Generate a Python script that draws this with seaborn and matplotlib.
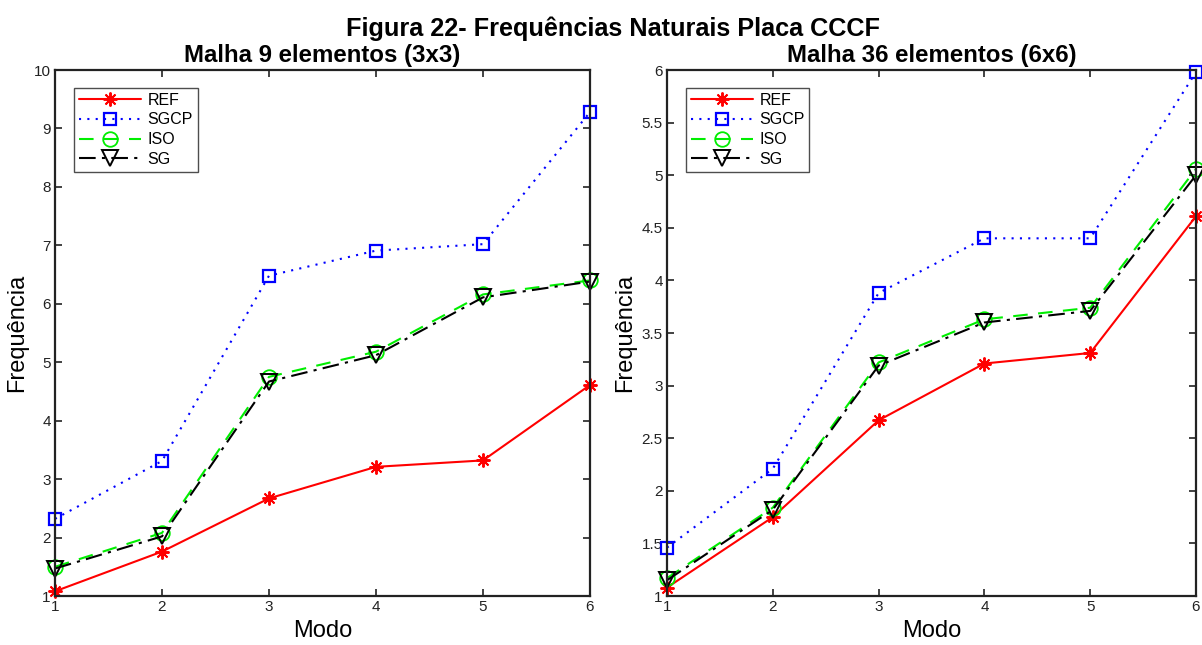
import matplotlib
matplotlib.use("Agg")
import matplotlib.pyplot as plt
import seaborn as sns
import numpy as np

modes = [1, 2, 3, 4, 5, 6]

# Malha 9 elementos (3x3)
ref_3x3 = [1.08, 1.76, 2.67, 3.21, 3.32, 4.61]
sgcp_3x3 = [2.32, 3.31, 6.48, 6.91, 7.02, 9.28]
iso_3x3 = [1.50, 2.08, 4.75, 5.18, 6.16, 6.40]
sg_3x3 = [1.47, 2.02, 4.67, 5.12, 6.11, 6.38]

# Malha 36 elementos (6x6)
ref_6x6 = [1.08, 1.75, 2.67, 3.21, 3.31, 4.61]
sgcp_6x6 = [1.46, 2.21, 3.88, 4.40, 4.40, 5.98]
iso_6x6 = [1.17, 1.84, 3.22, 3.63, 3.74, 5.06]
sg_6x6 = [1.15, 1.82, 3.19, 3.60, 3.71, 5.00]

series_names = ["REF", "SGCP", "ISO", "SG"]
fig_title = "Figura 22- Frequências Naturais Placa CCCF"
sub_titles = ["Malha 9 elementos (3x3)", "Malha 36 elementos (6x6)"]
x_label = "Modo"
y_label = "Frequência"

sns.set_style("ticks")
plt.rcParams["font.family"] = ["Liberation Sans", "DejaVu Sans"]
plt.rcParams["text.color"] = "black"
plt.rcParams["axes.labelcolor"] = "black"

fig = plt.figure(figsize=(12.02, 6.45), dpi=100)
ax1 = fig.add_axes([55/1202, 1-596/645, (590-55)/1202, (596-70)/645])
ax2 = fig.add_axes([667/1202, 1-596/645, (1196-667)/1202, (596-70)/645])

line_styles = [
    dict(color="#ff0000", linestyle="-"),
    dict(color="#0000ff", linestyle=(0, (1, 3))),
    dict(color="#00ee00", linestyle=(0, (7, 5))),
    dict(color="#000000", linestyle=(0, (8, 3, 1.5, 3))),
]
marker_styles = [
    dict(marker=(8, 2, 0), ms=10, mfc="#ff0000", mec="#ff0000", mew=1.4),
    dict(marker="s", ms=8, mfc="none", mec="#0000ff", mew=1.6),
    dict(marker="o", ms=10.5, mfc="none", mec="#00ee00", mew=1.3),
    dict(marker="v", ms=11, mfc="none", mec="#000000", mew=1.4),
]

data_sets = [
    (ax1, [ref_3x3, sgcp_3x3, iso_3x3, sg_3x3], (1, 10), np.arange(1, 11, 1), [str(v) for v in range(1, 11)]),
    (ax2, [ref_6x6, sgcp_6x6, iso_6x6, sg_6x6], (1, 6), np.arange(1, 6.01, 0.5),
     ["1", "1.5", "2", "2.5", "3", "3.5", "4", "4.5", "5", "5.5", "6"]),
]

for i, (ax, vals, ylim, yt, ytl) in enumerate(data_sets):
    for name, v, ls, mk in zip(series_names, vals, line_styles, marker_styles):
        sns.lineplot(x=modes, y=v, ax=ax, label=name, linewidth=1.5, **ls)
        ln = ax.lines[-1]
        ln.set_marker(mk["marker"])
        ln.set_markersize(mk["ms"])
        ln.set_markerfacecolor(mk["mfc"])
        ln.set_markeredgecolor(mk["mec"])
        ln.set_markeredgewidth(mk["mew"])
        ln.set_clip_on(False)
    ax.set_xlim(1, 6)
    ax.set_ylim(*ylim)
    ax.set_xticks(modes)
    ax.set_xticklabels([str(m) for m in modes])
    ax.set_yticks(yt)
    ax.set_yticklabels(ytl)
    ax.tick_params(direction="in", length=5, width=1.2, top=True, right=True,
                   labelsize=11, colors="#222222", pad=3)
    for sp in ax.spines.values():
        sp.set_visible(True)
        sp.set_linewidth(1.6)
        sp.set_color("#222222")
    ax.set_xlabel(x_label, fontsize=17, labelpad=4)
    ax.set_ylabel(y_label, fontsize=17, labelpad=4)
    ax.set_title(sub_titles[i], fontsize=17.3, fontweight="bold", pad=6)
    leg = ax.legend(loc="upper left", bbox_to_anchor=(0.0355, 0.966), borderaxespad=0,
                    fontsize=11.5, frameon=True, fancybox=False, edgecolor="#222222",
                    handlelength=3.9, borderpad=0.3, labelspacing=0.3, handletextpad=0.4)
    leg.get_frame().set_linewidth(1.0)

fig.suptitle(fig_title, fontsize=18.2, fontweight="bold", x=613/1202, y=0.975)

fig.savefig("out.png", dpi=100)
